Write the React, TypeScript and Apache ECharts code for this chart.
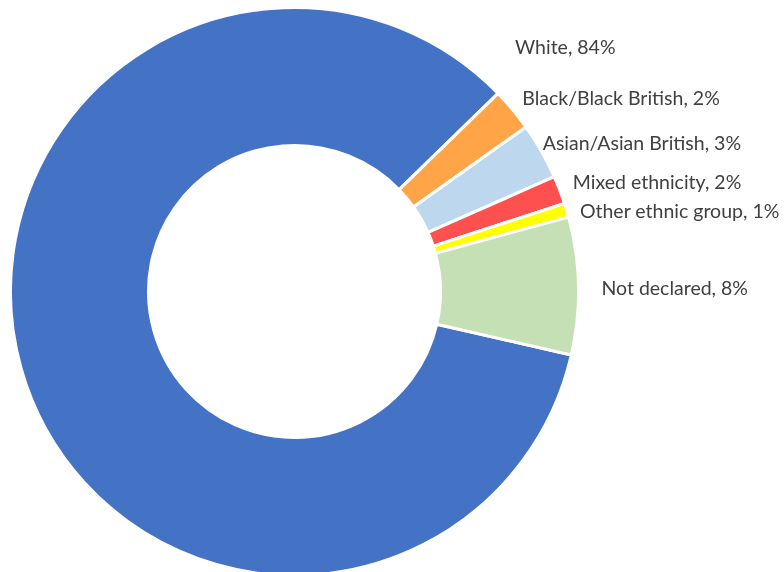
import React, { useEffect, useRef } from "react";
import * as echarts from "echarts";

const categories = [
  "White",
  "Black/Black British",
  "Asian/Asian British",
  "Mixed ethnicity",
  "Other ethnic group",
  "Not declared",
];
const shares = [84.0, 2.45, 3.2, 1.6, 0.8, 7.8];
const colors = ["#4472C4", "#FFA548", "#BDD7EE", "#FF5050", "#FFFF00", "#C5E0B4"];
// per-slice label nudges (label line length, horizontal offset, vertical nudge)
const labelLengths = [17, 19, 17, 21, 17, 17];
const labelShifts = [0, -5, -13.5, -6.5, -3, 6];
const labelNudgeY = [0, 0, 0, -1, 5, 2];

export default function App() {
  const ref = useRef<HTMLDivElement>(null);
  useEffect(() => {
    const chart = echarts.init(ref.current!, null, { renderer: "svg" });
    chart.setOption({
      animation: false,
      series: [
        {
          type: "pie",
          center: [294.5, 291.5],
          radius: [146, 284],
          startAngle: -12.93,
          clockwise: true,
          avoidLabelOverlap: false,
          itemStyle: { borderColor: "#ffffff", borderWidth: 3 },
          label: {
            position: "outside",
            formatter: (p: any) => `${p.name}, ${Math.round(p.percent)}%`,
            fontFamily: "Lato",
            fontSize: 19.5,
            color: "#404040",
            overflow: "none",
            distanceToLabelLine: 0,
          },
          labelLine: { show: false, length: 17, length2: 0 },
          labelLayout: (params: any) =>
            params.dataIndex === 0
              ? { x: 515, y: 46, align: "left", verticalAlign: "middle" }
              : { dy: labelNudgeY[params.dataIndex] },
          data: categories.map((name, i) => ({
            name,
            value: shares[i],
            itemStyle: { color: colors[i] },
            label: { distanceToLabelLine: labelShifts[i] },
            labelLine: { length: labelLengths[i] },
          })),
        },
      ],
    });
    return () => chart.dispose();
  }, []);
  return (
    <div
      ref={ref}
      style={{ position: "fixed", left: 0, top: 0, width: 784, height: 572 }}
    />
  );
}
